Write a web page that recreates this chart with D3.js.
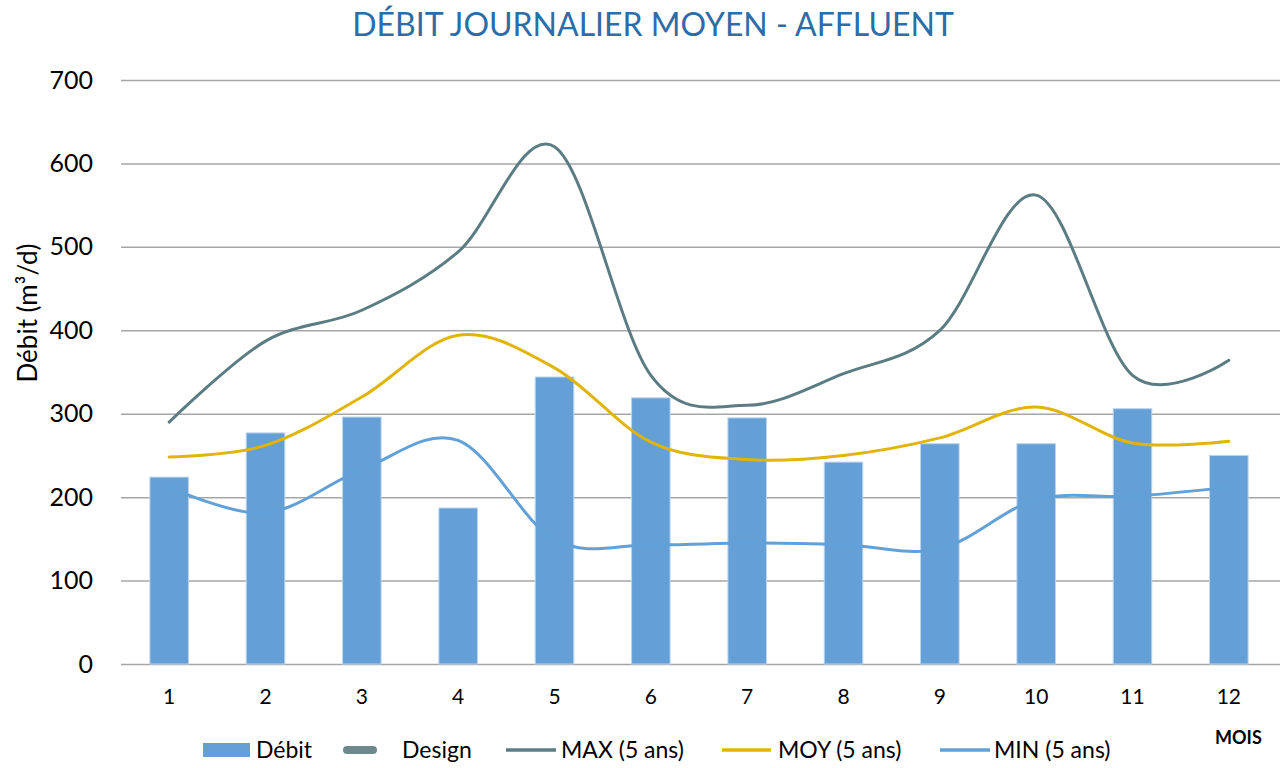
<!DOCTYPE html>
<html>
<head>
<meta charset="utf-8">
<script src="https://cdn.jsdelivr.net/npm/d3@7"></script>
<style>
  body { margin: 0; background: #fff; }
  svg { font-family: Lato, "Open Sans", sans-serif; }
</style>
</head>
<body>
<svg id="chart"></svg>
<script>
// Data
var months = ["1", "2", "3", "4", "5", "6", "7", "8", "9", "10", "11", "12"];
var debit = [224, 277, 296, 187, 344, 319, 295, 242, 264, 264, 306, 250];
var maxVals = [290, 387, 424, 494, 620, 346, 310, 348, 400, 562, 346, 364];
var moyVals = [248, 262, 320, 394, 355, 266, 245, 250, 271, 308, 265, 267];
var minVals = [212, 181, 233, 268, 149, 143, 145, 143, 138, 197, 201, 212];
var yTicks = [0, 100, 200, 300, 400, 500, 600, 700];

var w = 1283;
var h = 768;
var margin = { top: 80, right: 6, bottom: 104, left: 121 };

var colors = {
    bar: "#649fd6",
    max: "#5b7c82",
    moy: "#e1b40a",
    min: "#62a0d8",
    design: "#6f888c",
    title: "#2e6ca7",
    grid: "#a6a6a6"
};

var svg = d3.select("#chart").attr("width", w).attr("height", h);

var x = d3.scaleBand()
    .domain(months)
    .range([margin.left, w - margin.right])
    .paddingInner(0.6)
    .paddingOuter(0.3);

var y = d3.scaleLinear()
    .domain([0, 700])
    .range([h - margin.bottom, margin.top]);

// Title
svg.append("text")
    .attr("x", 653)
    .attr("y", 36)
    .attr("text-anchor", "middle")
    .attr("fill", colors.title)
    .style("font-size", "32px")
    .text("DÉBIT JOURNALIER MOYEN - AFFLUENT");

// Y grid + labels
var yAxis = svg.append("g")
    .attr("transform", "translate(" + margin.left + ",0)")
    .call(d3.axisLeft(y).tickValues(yTicks).tickSize(-(w - margin.left - 3)).tickPadding(28));
yAxis.select(".domain").remove();
yAxis.selectAll(".tick line").attr("stroke", colors.grid).attr("stroke-width", 1.5);
yAxis.selectAll(".tick text")
    .attr("fill", "#000")
    .style("font-size", "25px")
    .style("font-family", "Lato, sans-serif");

// X labels
var xAxis = svg.append("g")
    .attr("transform", "translate(0," + (h - margin.bottom) + ")")
    .call(d3.axisBottom(x).tickSize(0).tickPadding(25));
xAxis.select(".domain").remove();
xAxis.selectAll(".tick text")
    .attr("fill", "#000")
    .style("font-size", "21px")
    .style("font-family", "Lato, sans-serif");

// Y axis title
svg.append("text")
    .attr("transform", "translate(37," + 313 + ")rotate(-90)")
    .attr("text-anchor", "middle")
    .style("font-size", "26px")
    .text("Débit (m³/d)");

// Bars
svg.append("g").selectAll("rect")
    .data(debit)
    .enter()
    .append("rect")
    .attr("x", function(d, i) { return x(months[i]); })
    .attr("y", function(d) { return y(d); })
    .attr("width", x.bandwidth())
    .attr("height", function(d) { return y(0) - y(d); })
    .attr("fill", colors.bar)
    .attr("stroke", "#b9d4ee")
    .attr("stroke-width", 1);

// Smoothed lines
var line = d3.line()
    .x(function(d, i) { return x(months[i]) + x.bandwidth() / 2; })
    .y(function(d) { return y(d); })
    .curve(d3.curveCardinal.tension(0));

[[minVals, colors.min], [moyVals, colors.moy], [maxVals, colors.max]].forEach(function(s) {
    svg.append("path")
        .datum(s[0])
        .attr("d", line)
        .attr("fill", "none")
        .attr("stroke", s[1])
        .attr("stroke-width", 3)
        .attr("stroke-linecap", "round");
});

// Legend
var ly = 750;
var legend = svg.append("g").style("font-size", "23px");

legend.append("rect")
    .attr("x", 203).attr("y", ly - 7).attr("width", 47).attr("height", 14)
    .attr("fill", colors.bar);
legend.append("text").attr("x", 256).attr("y", ly + 8).text("Débit");

legend.append("line")
    .attr("x1", 347).attr("x2", 373).attr("y1", ly).attr("y2", ly)
    .attr("stroke", colors.design).attr("stroke-width", 8).attr("stroke-linecap", "round");
legend.append("text").attr("x", 402).attr("y", ly + 8).text("Design");

var lineItems = [
    { x1: 506, x2: 556, tx: 561, color: colors.max, label: "MAX (5 ans)" },
    { x1: 722, x2: 771, tx: 778, color: colors.moy, label: "MOY (5 ans)" },
    { x1: 940, x2: 990, tx: 994, color: colors.min, label: "MIN (5 ans)" }
];
lineItems.forEach(function(it) {
    legend.append("line")
        .attr("x1", it.x1).attr("x2", it.x2).attr("y1", ly).attr("y2", ly)
        .attr("stroke", it.color).attr("stroke-width", 3.5);
    legend.append("text").attr("x", it.tx).attr("y", ly + 8).text(it.label);
});

svg.append("text")
    .attr("x", 1215).attr("y", 744)
    .style("font-size", "18px")
    .style("font-weight", "bold")
    .text("MOIS");
</script>
</body>
</html>
